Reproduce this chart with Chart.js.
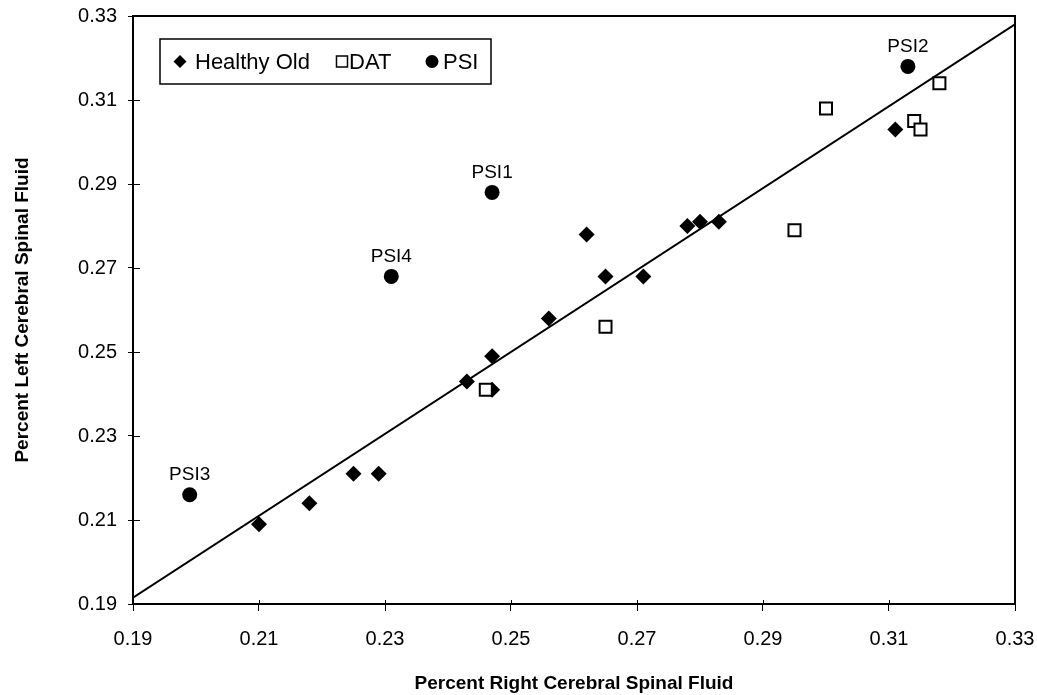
<!DOCTYPE html>
<html>
<head>
<meta charset="utf-8">
<title>Cerebral Spinal Fluid</title>
<script src="https://cdn.jsdelivr.net/npm/chart.js@4.4.1/dist/chart.umd.min.js"></script>
<style>
  html, body { margin: 0; padding: 0; background: #fff; }
</style>
</head>
<body>
<canvas id="chart" width="1037" height="695"></canvas>
<script>
// values
var healthyX = [0.210, 0.218, 0.225, 0.229, 0.243, 0.247, 0.247, 0.256, 0.262, 0.265, 0.271, 0.278, 0.280, 0.283, 0.311];
var healthyY = [0.209, 0.214, 0.221, 0.221, 0.243, 0.241, 0.249, 0.258, 0.278, 0.268, 0.268, 0.280, 0.281, 0.281, 0.303];

var datX = [0.246, 0.265, 0.295, 0.300, 0.314, 0.315, 0.318];
var datY = [0.241, 0.256, 0.279, 0.308, 0.305, 0.303, 0.314];

var psiX = [0.247, 0.313, 0.199, 0.231];
var psiY = [0.288, 0.318, 0.216, 0.268];
var psiNames = ['PSI1', 'PSI2', 'PSI3', 'PSI4'];

var trendX = [0.19, 0.33];
var trendY = [0.1915, 0.328];

var axisMin = 0.19;
var axisMax = 0.33;
var axisStep = 0.02;

var FONT = '"Liberation Sans", Arial, Helvetica, sans-serif';

function toPoints(xs, ys) {
  var pts = [];
  for (var i = 0; i < xs.length; i++) {
    pts.push({ x: xs[i], y: ys[i] });
  }
  return pts;
}

// box round the plot area, plus the inner half of each tick
var framePlugin = {
  id: 'frame',
  afterDraw: function(chart) {
    var ctx = chart.ctx;
    var a = chart.chartArea;
    ctx.save();
    ctx.strokeStyle = '#000';
    ctx.lineWidth = 2;
    ctx.strokeRect(a.left, a.top, a.right - a.left, a.bottom - a.top);

    ctx.lineWidth = 1;
    ctx.beginPath();
    var xs = chart.scales.x;
    for (var i = 0; i < xs.ticks.length; i++) {
      var px = Math.round(xs.getPixelForTick(i)) + 0.5;
      ctx.moveTo(px, a.bottom);
      ctx.lineTo(px, a.bottom - 4);
    }
    var ys = chart.scales.y;
    for (var j = 0; j < ys.ticks.length; j++) {
      var py = Math.round(ys.getPixelForTick(j)) + 0.5;
      ctx.moveTo(a.left, py);
      ctx.lineTo(a.left + 7, py);
    }
    ctx.stroke();
    ctx.restore();
  }
};

function drawMarker(ctx, style, x, y) {
  ctx.beginPath();
  if (style === 'rectRot') {
    ctx.moveTo(x, y - 6.5);
    ctx.lineTo(x + 6.5, y);
    ctx.lineTo(x, y + 6.5);
    ctx.lineTo(x - 6.5, y);
    ctx.closePath();
    ctx.fillStyle = '#000';
    ctx.fill();
  } else if (style === 'rect') {
    ctx.rect(x - 5.5, y - 5.5, 11, 11);
    ctx.fillStyle = '#fff';
    ctx.fill();
    ctx.lineWidth = 1.5;
    ctx.strokeStyle = '#000';
    ctx.stroke();
  } else {
    ctx.arc(x, y, 6.5, 0, Math.PI * 2);
    ctx.fillStyle = '#000';
    ctx.fill();
  }
}

// boxed legend sitting inside the plot, top left
var legendPlugin = {
  id: 'boxLegend',
  afterDraw: function(chart) {
    var ctx = chart.ctx;
    var a = chart.chartArea;
    var left = a.left + 27, top = a.top + 23, w = 331, h = 45;
    var markerAt = [20, 182, 272];
    var textAt = [35, 189, 283];
    ctx.save();
    ctx.fillStyle = '#fff';
    ctx.fillRect(left, top, w, h);
    ctx.strokeStyle = '#000';
    ctx.lineWidth = 1.5;
    ctx.strokeRect(left, top, w, h);
    ctx.font = '22px ' + FONT;
    ctx.textBaseline = 'middle';
    ctx.textAlign = 'left';
    var cy = top + h / 2;
    var k = 0;
    chart.data.datasets.forEach(function(ds) {
      if (ds.pointRadius === 0) return;
      drawMarker(ctx, ds.pointStyle, left + markerAt[k], cy);
      ctx.fillStyle = '#000';
      ctx.fillText(ds.label, left + textAt[k], cy + 1);
      k++;
    });
    ctx.restore();
  }
};

// PSI names written above their points
var nameplugin = {
  id: 'psiNames',
  afterDatasetsDraw: function(chart) {
    var ctx = chart.ctx;
    var meta = chart.getDatasetMeta(2);
    ctx.save();
    ctx.font = '19px ' + FONT;
    ctx.fillStyle = '#000';
    ctx.textAlign = 'center';
    ctx.textBaseline = 'middle';
    for (var i = 0; i < meta.data.length; i++) {
      var el = meta.data[i];
      ctx.fillText(psiNames[i], el.x, el.y - 20);
    }
    ctx.restore();
  }
};

function axisOptions(title, isX) {
  return {
    type: 'linear',
    min: axisMin,
    max: axisMax,
    ticks: {
      stepSize: axisStep,
      color: '#000',
      font: { family: FONT, size: 20 },
      padding: isX ? 16 : 11,
      callback: function(v) { return v.toFixed(2); }
    },
    grid: {
      drawOnChartArea: false,
      drawTicks: true,
      tickLength: isX ? 7 : 5,
      color: '#000',
      lineWidth: 1
    },
    border: { color: '#000', width: 2 },
    title: {
      display: true,
      text: title,
      color: '#000',
      font: { family: FONT, size: 19, weight: 'bold' },
      padding: isX ? { top: 4, bottom: 0 } : { top: 11, bottom: 4 }
    },
    afterFit: function(scale) {
      if (isX) {
        scale.height = 91;
      } else {
        scale.width = 133;
      }
      // the outer padding is set by hand in layout.padding
      scale.paddingLeft = 0;
      scale.paddingRight = 0;
      scale.paddingTop = 0;
      scale.paddingBottom = 0;
    }
  };
}

new Chart(document.getElementById('chart'), {
  type: 'scatter',
  data: {
    datasets: [{
      label: 'Healthy Old',
      data: toPoints(healthyX, healthyY),
      pointStyle: 'rectRot',
      pointRadius: 8,
      backgroundColor: '#000',
      borderColor: '#000',
      borderWidth: 0,
      order: 2
    }, {
      label: 'DAT',
      data: toPoints(datX, datY),
      pointStyle: 'rect',
      pointRadius: 8.5,
      backgroundColor: '#fff',
      borderColor: '#000',
      borderWidth: 2,
      order: 1
    }, {
      label: 'PSI',
      data: toPoints(psiX, psiY),
      pointStyle: 'circle',
      pointRadius: 7.5,
      backgroundColor: '#000',
      borderColor: '#000',
      borderWidth: 0,
      order: 0
    }, {
      label: 'fit',
      data: toPoints(trendX, trendY),
      showLine: true,
      pointRadius: 0,
      borderColor: '#000',
      borderWidth: 2,
      fill: false,
      order: 10
    }]
  },
  options: {
    responsive: false,
    animation: false,
    events: [],
    layout: { padding: { top: 16, right: 22, left: 0, bottom: 0 } },
    plugins: {
      legend: { display: false },
      tooltip: { enabled: false }
    },
    scales: {
      x: axisOptions('Percent Right Cerebral Spinal Fluid', true),
      y: axisOptions('Percent Left Cerebral Spinal Fluid', false)
    }
  },
  plugins: [framePlugin, legendPlugin, nameplugin]
});
</script>
</body>
</html>
